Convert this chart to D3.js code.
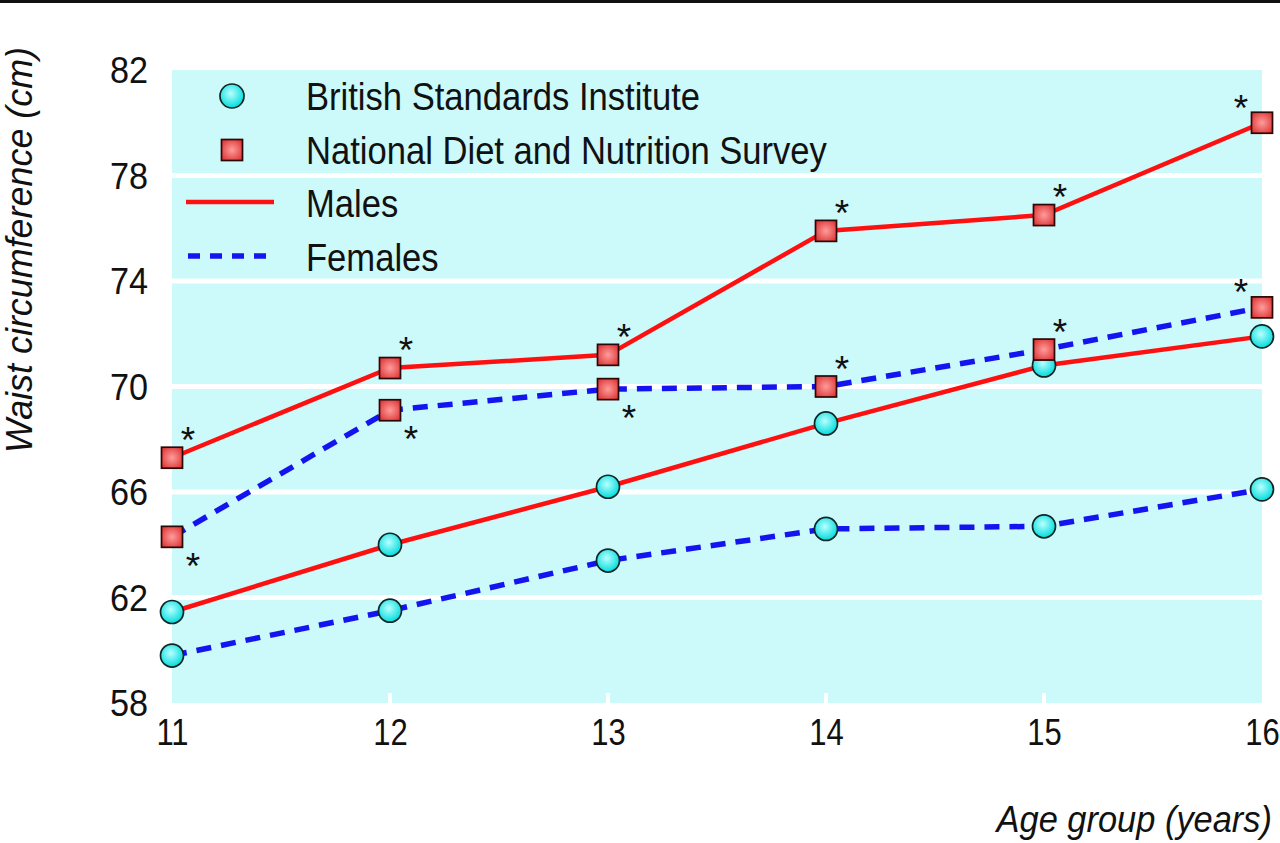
<!DOCTYPE html>
<html><head><meta charset="utf-8">
<script src="https://cdn.jsdelivr.net/npm/d3@7"></script>
<style>body{margin:0;background:#fff;} svg{display:block;} text{font-family:"Liberation Sans",Arial,sans-serif;fill:#111;}</style>
</head><body><svg id="c" width="1280" height="843"></svg>
<script>
const ages=[11,12,13,14,15,16];
const yTicks=[58,62,66,70,74,78,82];
const gridValues=[62,66,70,74,78];
const bsiMales=[61.45,64.0,66.2,68.6,70.8,71.9];
const bsiFemales=[59.8,61.5,63.4,64.6,64.7,66.1];
const ndnsMales=[67.3,70.7,71.2,75.9,76.5,80.0];
const ndnsFemales=[64.3,69.1,69.9,70.0,71.4,73.0];
const ndnsMalesStar=["ur","ur","ur","ur","ur","ul"];
const ndnsFemalesStar=["dr","dr","dr","ur","ur","ul"];
const legendLabels=["British Standards Institute","National Diet and Nutrition Survey","Males","Females"];
const xTitle="Age group (years)";
const yTitle="Waist circumference (cm)";

const svg=d3.select("#c");
const L=172,R=1262,T=70,B=703;
const x=d3.scaleLinear().domain([11,16]).range([L,R]);
const y=d3.scaleLinear().domain([58,82]).range([B,T]);

function condense(sel,f){sel.each(function(){const w=this.getComputedTextLength();this.setAttribute("textLength",w*f);this.setAttribute("lengthAdjust","spacingAndGlyphs");});}

// gradients
const defs=svg.append("defs");
const gc=defs.append("radialGradient").attr("id","gCirc").attr("cx","45%").attr("cy","40%").attr("r","60%");
gc.append("stop").attr("offset","0%").attr("stop-color","#b8ffff");
gc.append("stop").attr("offset","100%").attr("stop-color","#00dcdc");
const gs=defs.append("radialGradient").attr("id","gSq").attr("cx","50%").attr("cy","50%").attr("r","65%");
gs.append("stop").attr("offset","0%").attr("stop-color","#ff9c9c");
gs.append("stop").attr("offset","100%").attr("stop-color","#dc3030");

// top rule
svg.append("rect").attr("x",0).attr("y",0).attr("width",1280).attr("height",3).attr("fill","#111");

// plot background
svg.append("rect").attr("x",L).attr("y",T).attr("width",R-L).attr("height",B-T).attr("fill","#ccf9f9");
svg.selectAll("line.grid").data(gridValues).enter().append("line").attr("class","grid")
  .attr("x1",L).attr("x2",R).attr("y1",d=>y(d)).attr("y2",d=>y(d)).attr("stroke","#fff").attr("stroke-width",5);
svg.selectAll("line.xt").data(ages.slice(1,-1)).enter().append("line").attr("class","xt")
  .attr("x1",d=>x(d)).attr("x2",d=>x(d)).attr("y1",B).attr("y2",B-10).attr("stroke","#fff").attr("stroke-width",4);

// axes
const ya=svg.append("g").attr("transform",`translate(${L},0)`).call(d3.axisLeft(y).tickValues(yTicks).tickSize(0).tickPadding(24).tickFormat(d3.format("d")));
ya.select(".domain").remove();
ya.selectAll("text").attr("font-size",36).attr("font-family","Liberation Sans, Arial, sans-serif").attr("dy","0.36em");
const xa=svg.append("g").attr("transform",`translate(0,${B})`).call(d3.axisBottom(x).tickValues(ages).tickSize(0).tickPadding(16).tickFormat(d3.format("d")));
xa.select(".domain").remove();
xa.selectAll("text").attr("font-size",36).attr("font-family","Liberation Sans, Arial, sans-serif");
ya.selectAll("text").call(condense,0.95);
xa.selectAll("text").call(condense,0.86);

// titles
svg.append("text").attr("x",1272).attr("y",832).attr("text-anchor","end").attr("font-size",37).attr("font-style","italic").text(xTitle).call(condense,0.93);
svg.append("text").attr("transform","translate(32,250) rotate(-90)").attr("text-anchor","middle").attr("font-size",37).attr("font-style","italic").text(yTitle).call(condense,0.97);

// lines
const line=d3.line().x((d,i)=>x(ages[i])).y(d=>y(d));
const series=[
  {v:ndnsMales,col:"#ff1010",dash:null,w:4.5},
  {v:bsiMales,col:"#ff1010",dash:null,w:4.5},
  {v:ndnsFemales,col:"#1414f0",dash:"15,10",w:5.5},
  {v:bsiFemales,col:"#1414f0",dash:"15,10",w:5.5}
];
series.forEach(s=>{
  svg.append("path").datum(s.v).attr("d",line).attr("fill","none").attr("stroke",s.col).attr("stroke-width",s.w)
    .attr("stroke-dasharray",s.dash);
});

// markers
function circles(vals){
  svg.append("g").selectAll("circle").data(vals).enter().append("circle")
    .attr("cx",(d,i)=>x(ages[i])).attr("cy",d=>y(d)).attr("r",11.5)
    .attr("fill","url(#gCirc)").attr("stroke","#102525").attr("stroke-width",1.7);
}
function squares(vals){
  svg.append("g").selectAll("rect").data(vals).enter().append("rect")
    .attr("x",(d,i)=>x(ages[i])-10.5).attr("y",d=>y(d)-10.5).attr("width",21).attr("height",21)
    .attr("fill","url(#gSq)").attr("stroke","#2a0808").attr("stroke-width",1.7);
}
circles(bsiMales);circles(bsiFemales);
squares(ndnsMales);squares(ndnsFemales);

// significance asterisks
const off={ur:[16,-26],dr:[21,21],ul:[-21,-23]};
function stars(vals,pos){
  svg.append("g").selectAll("text").data(vals).enter().append("text")
    .attr("x",(d,i)=>x(ages[i])+off[pos[i]][0]).attr("y",(d,i)=>y(d)+off[pos[i]][1]+21)
    .attr("text-anchor","middle").attr("font-size",37).text("*");
}
stars(ndnsMales,ndnsMalesStar);
stars(ndnsFemales,ndnsFemalesStar);

// legend
const lg=svg.append("g");
lg.append("circle").attr("cx",232).attr("cy",96).attr("r",12).attr("fill","url(#gCirc)").attr("stroke","#102525").attr("stroke-width",1.7);
lg.append("rect").attr("x",221.5).attr("y",139.5).attr("width",21).attr("height",21).attr("fill","url(#gSq)").attr("stroke","#2a0808").attr("stroke-width",1.7);
lg.append("line").attr("x1",186).attr("x2",274).attr("y1",202).attr("y2",202).attr("stroke","#ff1010").attr("stroke-width",4.5);
lg.append("line").attr("x1",188).attr("x2",274).attr("y1",256).attr("y2",256).attr("stroke","#1414f0").attr("stroke-width",5.5).attr("stroke-dasharray","12,10");
lg.selectAll("text").data(legendLabels).enter().append("text")
  .attr("x",306).attr("y",(d,i)=>110+i*53.5).attr("font-size",38).text(d=>d).call(condense,0.91);
</script></body></html>
